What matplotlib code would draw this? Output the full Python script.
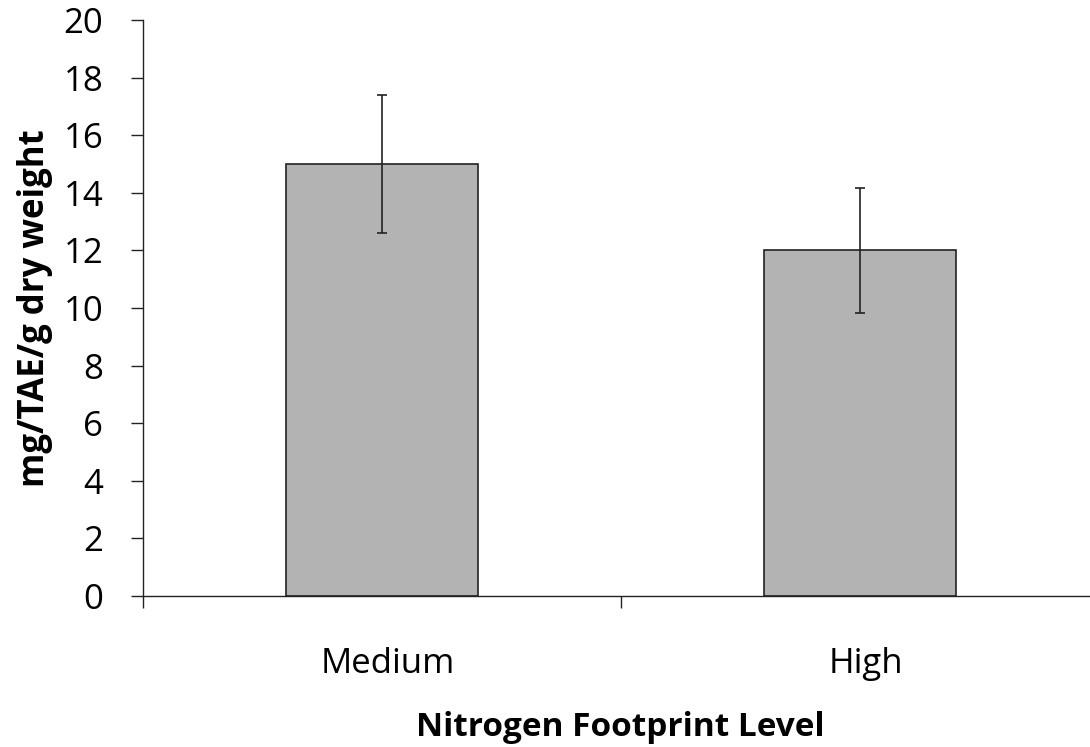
import matplotlib
matplotlib.use("Agg")
import matplotlib.pyplot as plt
import matplotlib.transforms as mtransforms

plt.rcParams['font.family'] = ['Open Sans', 'DejaVu Sans']

# tannin content per nitrogen footprint group
levels = ['Medium', 'High']
means = [15.0, 12.0]
errors = [2.4, 2.17]
yticks = [0, 2, 4, 6, 8, 10, 12, 14, 16, 18, 20]

W, H = 1090, 747
fig = plt.figure(figsize=(W / 100, H / 100), dpi=100)
ax = fig.add_axes([143 / W, 151 / H, (W - 143) / W, 576 / H])

x = list(range(len(levels)))
ax.bar(x, means, width=0.4, color='#b3b3b3', edgecolor='#222222', linewidth=1.2, zorder=2)
ax.errorbar(x, means, yerr=errors, fmt='none', ecolor='#222222', elinewidth=1.2,
            capsize=3.6, capthick=1.2, zorder=3)

ax.set_yticks(yticks)
# category boundaries as major ticks (no labels)
ax.set_xticks([-0.5, 0.5, 1.5])
ax.set_xticklabels([])
# set limits after the ticks, otherwise set_xticks widens the view
ax.set_ylim(0, 20)
ax.set_xlim(-0.5, -0.5 + (W - 143) / 478)

ax.tick_params(axis='x', which='major', length=8.6, width=1, color='#222222', direction='out')
ax.tick_params(axis='y', length=8.6, width=1, color='#222222', direction='out', pad=20, labelsize=25)

# category names, nudged a few pixels right like the original layout
shift = mtransforms.ScaledTranslation(6 / 100, 0, fig.dpi_scale_trans)
trans = mtransforms.blended_transform_factory(ax.transData, ax.transAxes) + shift
for xi, name in zip(x, levels):
    ax.text(xi, -(673 - 596) / 576, name, transform=trans, ha='center', va='baseline', fontsize=25)

for s in ['top', 'right']:
    ax.spines[s].set_visible(False)
for s in ['left', 'bottom']:
    ax.spines[s].set_linewidth(1)
    ax.spines[s].set_color('#222222')

ax.set_ylabel('mg/TAE/g dry weight', fontsize=25, fontweight='bold')
ax.set_xlabel('Nitrogen Footprint Level', fontsize=24, fontweight='bold')
ax.yaxis.set_label_coords(-(143 - 35) / (W - 143), 0.5)
ax.xaxis.set_label_coords((620 - 143) / (W - 143), -(727 - 596) / 576)
ax.xaxis.label.set_verticalalignment('center')
ax.yaxis.label.set_verticalalignment('center')

fig.savefig('out.png', dpi=100)
